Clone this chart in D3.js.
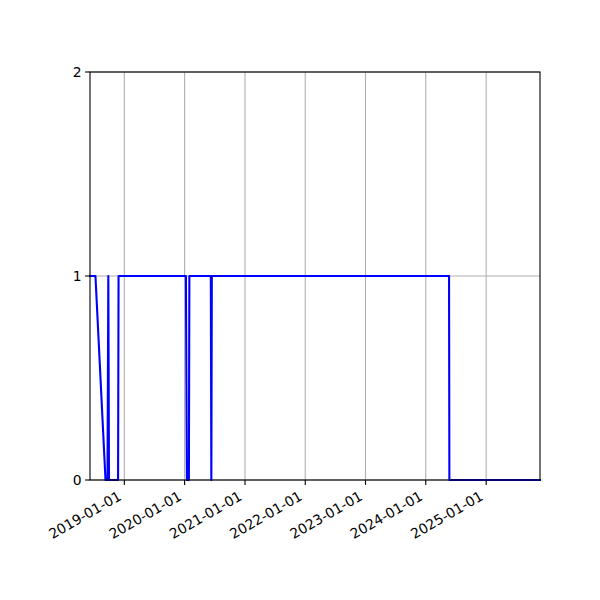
<!DOCTYPE html>
<html><head><meta charset="utf-8">
<script src="https://d3js.org/d3.v7.min.js"></script>
<style>body{margin:0;background:#fff}svg{display:block}</style>
</head><body>
<script>
const dates = ["2018-06-07","2018-07-10","2018-09-09","2018-09-21","2018-09-26","2018-09-30","2018-11-24","2018-11-27","2020-01-09","2020-01-15","2020-01-27","2020-01-30","2020-06-08","2020-06-11","2020-06-14","2024-05-21","2024-05-23","2025-11-23"];
const values = [1,1,0,0,1,0,0,1,1,0,0,1,1,0,1,1,0,0];
const xTicks = ["2019-01-01","2020-01-01","2021-01-01","2022-01-01","2023-01-01","2024-01-01","2025-01-01"];
const yTicks = [0,1,2];

const W=600,H=600, L=90,R=540,T=72,B=480;
const parse = d3.utcParse("%Y-%m-%d");
const pts = dates.map((d,i)=>({d:parse(d), v:values[i]}));
const x = d3.scaleUtc().domain([pts[0].d, pts[pts.length-1].d]).range([L,R]);
const y = d3.scaleLinear().domain([0,2]).range([B,T]);
const svg = d3.select("body").append("svg").attr("width",W).attr("height",H);
const font = "DejaVu Sans";

// grid
const g = svg.append("g");
xTicks.forEach(t=>{
  g.append("line").attr("x1",x(parse(t))).attr("x2",x(parse(t))).attr("y1",T).attr("y2",B)
   .attr("stroke","#b0b0b0").attr("stroke-width",1.1);
});
yTicks.forEach(t=>{
  g.append("line").attr("x1",L).attr("x2",R).attr("y1",y(t)).attr("y2",y(t))
   .attr("stroke","#b0b0b0").attr("stroke-width",1.1);
});

// line
svg.append("path").datum(pts)
  .attr("d", d3.line().x(p=>x(p.d)).y(p=>y(p.v)))
  .attr("fill","none").attr("stroke","#0000ff").attr("stroke-width",2.1)
  .attr("stroke-linejoin","round").attr("stroke-linecap","square");

// spines
svg.append("rect").attr("x",L).attr("y",T).attr("width",R-L).attr("height",B-T)
  .attr("fill","none").attr("stroke","#000").attr("stroke-width",1.1);

// x ticks
xTicks.forEach(t=>{
  const px = x(parse(t));
  svg.append("line").attr("x1",px).attr("x2",px).attr("y1",B).attr("y2",B+4.9).attr("stroke","#000").attr("stroke-width",1.1);
  svg.append("text").attr("transform",`translate(${px-2},${B+19}) rotate(-30)`)
    .attr("text-anchor","end").attr("font-family",font).attr("font-size",13.9).attr("fill","#000").text(t);
});
// y ticks
yTicks.forEach(t=>{
  svg.append("line").attr("x1",L-4.9).attr("x2",L).attr("y1",y(t)).attr("y2",y(t)).attr("stroke","#000").attr("stroke-width",1.1);
  svg.append("text").attr("x",L-8.5).attr("y",y(t)).attr("dy","0.36em")
    .attr("text-anchor","end").attr("font-family",font).attr("font-size",13.9).attr("fill","#000").text(t);
});
</script>
</body></html>
